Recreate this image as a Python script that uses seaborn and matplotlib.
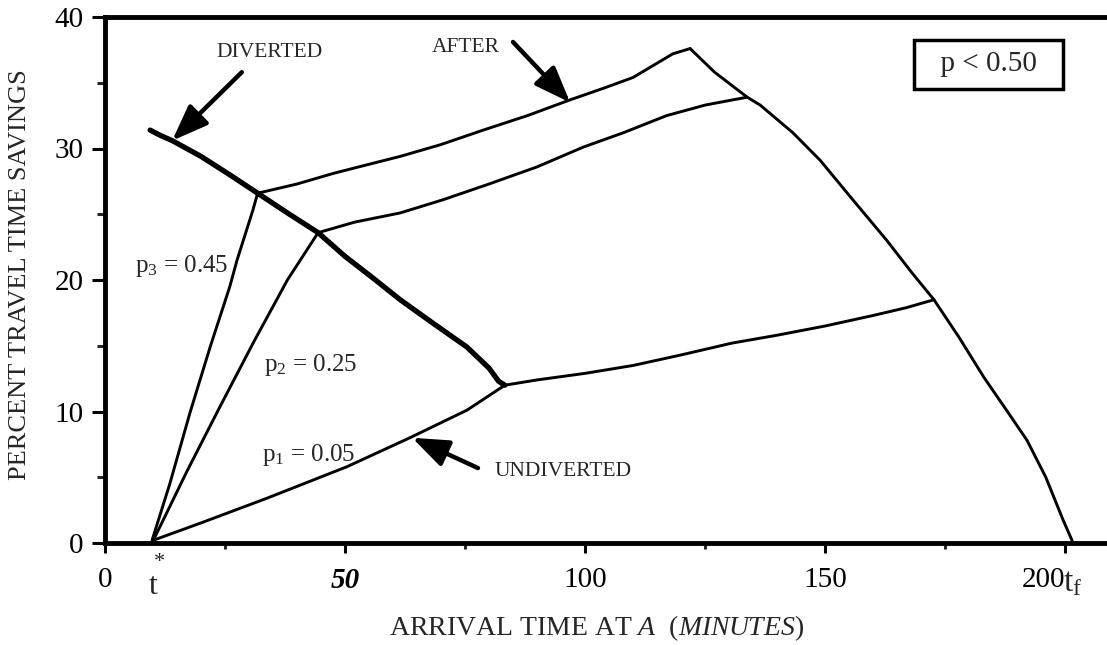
import pandas as pd
import seaborn as sns
import matplotlib.pyplot as plt
from matplotlib.ticker import FixedLocator

# values: arrival time at A (min) vs percent travel time savings
DIVERTED_X = [9.4, 11.5, 14.0, 20.0, 26.0, 31.8, 38.0, 44.4, 50.0, 56.0, 61.5, 68.0, 75.4, 80.0, 82.0, 83.3]
DIVERTED_Y = [31.4, 31.0, 30.6, 29.4, 28.0, 26.6, 25.1, 23.6, 21.8, 20.1, 18.5, 16.8, 14.9, 13.3, 12.3, 12.0]

P3_X = [9.8, 13.5, 17.7, 21.9, 26.0, 27.5, 30.8, 31.8]
P3_Y = [0.2, 4.5, 9.9, 14.9, 19.5, 21.5, 25.3, 26.6]
P2_X = [10.2, 17.0, 24.0, 31.0, 38.0, 44.4]
P2_Y = [0.3, 5.4, 10.4, 15.3, 20.0, 23.6]
P1_X = [10.0, 19.8, 33.7, 50.4, 63.5, 75.4, 83.3]
P1_Y = [0.2, 1.5, 3.4, 5.8, 8.0, 10.1, 12.0]

AFTER3_X = [31.8, 40.0, 47.5, 55.0, 61.5, 70.0, 78.8, 88.0, 96.9, 104.0, 110.0, 116.0, 118.3, 121.9]
AFTER3_Y = [26.6, 27.3, 28.1, 28.8, 29.4, 30.3, 31.4, 32.5, 33.7, 34.6, 35.4, 36.7, 37.2, 37.6]
AFTER2_X = [44.4, 52.0, 61.5, 70.4, 80.0, 90.0, 99.6, 108.0, 117.0, 125.0, 130.8, 133.8]
AFTER2_Y = [23.6, 24.4, 25.1, 26.1, 27.3, 28.6, 30.1, 31.2, 32.5, 33.3, 33.7, 33.9]
AFTER1_X = [83.3, 90.0, 100.0, 110.0, 120.0, 130.6, 140.0, 150.0, 160.0, 167.0, 172.7]
AFTER1_Y = [12.0, 12.4, 12.9, 13.5, 14.3, 15.2, 15.8, 16.5, 17.3, 17.9, 18.5]

FALL_X = [121.9, 127.0, 133.8, 136.5, 143.3, 149.0, 155.8, 162.9, 168.0, 172.7, 178.0, 183.1, 188.0, 192.1, 196.0, 199.6, 201.7]
FALL_Y = [37.6, 35.8, 33.9, 33.3, 31.2, 29.1, 26.1, 23.0, 20.6, 18.5, 15.6, 12.6, 10.0, 7.8, 5.0, 1.75, 0.0]

X_TICKS = [0, 50, 100, 150, 200]
X_TICK_LABELS = ["0", "50", "100", "150", "200"]
Y_TICKS = [0, 10, 20, 30, 40]

thin = pd.concat(
    [
        pd.DataFrame({"x": xs, "y": ys, "curve": name})
        for name, xs, ys in [
            ("p3", P3_X, P3_Y),
            ("p2", P2_X, P2_Y),
            ("p1", P1_X, P1_Y),
            ("after3", AFTER3_X, AFTER3_Y),
            ("after2", AFTER2_X, AFTER2_Y),
            ("after1", AFTER1_X, AFTER1_Y),
            ("fall", FALL_X, FALL_Y),
        ]
    ]
)
thick = pd.DataFrame({"x": DIVERTED_X, "y": DIVERTED_Y, "curve": "diverted"})

sns.set_style("ticks")
plt.rcParams["font.family"] = ["Liberation Serif", "DejaVu Serif"]
plt.rcParams["mathtext.fontset"] = "custom"
plt.rcParams["mathtext.rm"] = "Liberation Serif"
plt.rcParams["mathtext.it"] = "Liberation Serif:italic"
plt.rcParams["mathtext.bf"] = "Liberation Serif:bold"

fig = plt.figure(figsize=(11.07, 6.45), dpi=100)
ax = fig.add_axes([105 / 1107, 1 - 543 / 645, 1 - 105 / 1107, (543 - 17) / 645])

sns.lineplot(data=thin, x="x", y="y", units="curve", estimator=None, sort=False,
             color="black", linewidth=2.1, ax=ax)
sns.lineplot(data=thick, x="x", y="y", units="curve", estimator=None, sort=False,
             color="black", linewidth=3.8, ax=ax)

ax.set_xlim(0, (1107 - 105) / 4.8)
ax.set_ylim(0, 40)

ax.spines["right"].set_visible(False)
for side in ["left", "bottom", "top"]:
    ax.spines[side].set_linewidth(3.5)
    ax.spines[side].set_color("black")

ax.set_xticks(X_TICKS, X_TICK_LABELS)
ax.xaxis.set_minor_locator(FixedLocator([25, 75, 125, 175]))
ax.set_yticks(Y_TICKS)
ax.yaxis.set_minor_locator(FixedLocator([5, 15, 25, 35]))
ax.tick_params(axis="x", which="major", length=7, width=2.2, labelsize=21, pad=10, colors="black")
ax.tick_params(axis="x", which="minor", length=4.5, width=2.2)
ax.tick_params(axis="y", which="major", length=9.5, width=2.2, labelsize=21, pad=6, colors="black")
ax.tick_params(axis="y", which="minor", length=5.5, width=2.2)
xlabels = ax.get_xticklabels()
xlabels[1].set_fontweight("bold")
xlabels[1].set_fontstyle("italic")
xlabels[4].set_horizontalalignment("right")

ax.set_xlabel(r"ARRIVAL TIME AT $\mathit{A}$  $\mathit{(MINUTES)}$", fontsize=20, va="center")
ax.xaxis.set_label_coords(0.491, -0.162)
ax.set_ylabel("PERCENT TRAVEL TIME SAVINGS", fontsize=19, va="center")
ax.yaxis.set_label_coords(-0.085, 0.51)

# special time marks under the axis
ax.annotate("t", xy=(10, 0), xycoords="data", xytext=(0, -31), textcoords="offset points",
            ha="center", va="center", fontsize=23, annotation_clip=False)
ax.annotate("*", xy=(10, 0), xycoords="data", xytext=(4.5, -14), textcoords="offset points",
            ha="center", va="center", fontsize=16, annotation_clip=False)
ax.annotate(r"t$_\mathregular{f}$", xy=(199.6, 0), xycoords="data", xytext=(0, -29),
            textcoords="offset points", ha="left", va="center", fontsize=24, annotation_clip=False)

# curve annotations
arrow = dict(arrowstyle="-|>,head_length=1.1,head_width=0.42", mutation_scale=20,
             lw=3.2, color="black", shrinkA=0, shrinkB=0)
ax.text(34.2, 37.3, "DIVERTED", fontsize=15.5, ha="center", va="center")
ax.annotate("", xy=(14.0, 30.6), xytext=(28.5, 35.8), arrowprops=arrow)
ax.text(75.2, 37.7, "AFTER", fontsize=15.5, ha="center", va="center")
ax.annotate("", xy=(96.9, 33.5), xytext=(85.0, 38.1), arrowprops=arrow)
ax.text(95.4, 5.4, "UNDIVERTED", fontsize=15.5, ha="center", va="center")
ax.annotate("", xy=(64.0, 8.0), xytext=(77.7, 5.7), arrowprops=arrow)

ax.text(16.0, 21.1, r"p$_3$ = 0.45", fontsize=18, ha="center", va="center")
ax.text(42.9, 13.5, r"p$_2$ = 0.25", fontsize=18, ha="center", va="center")
ax.text(42.5, 6.7, r"p$_1$ = 0.05", fontsize=18, ha="center", va="center")

ax.text(184.0, 36.4, "  p < 0.50  ", fontsize=21, ha="center", va="center",
        bbox=dict(boxstyle="square,pad=0.4", fc="white", ec="black", lw=2.5))

fig.savefig("out.png", dpi=100)
